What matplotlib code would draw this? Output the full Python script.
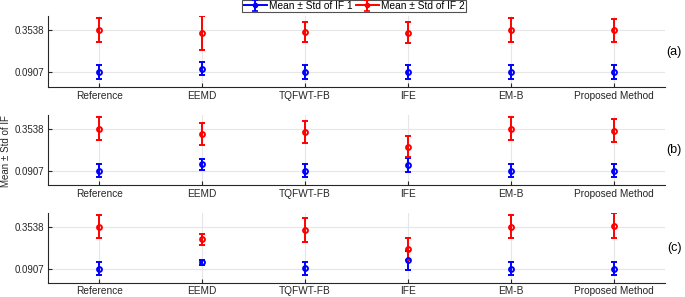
import matplotlib
matplotlib.use("Agg")
import matplotlib.pyplot as plt
import numpy as np

plt.rcParams['font.family'] = ['Liberation Sans', 'DejaVu Sans']

methods = ["Reference", "EEMD", "TQFWT-FB", "IFE", "EM-B", "Proposed Method"]
panel_labels = ["(a)", "(b)", "(c)"]
yticks = [0.0907, 0.3538]

# panel (a)
mean_if1_a = [0.0907, 0.113, 0.0907, 0.0907, 0.092, 0.0907]
std_if1_a = [0.044, 0.040, 0.044, 0.044, 0.044, 0.044]
mean_if2_a = [0.3538, 0.335, 0.341, 0.337, 0.3538, 0.351]
std_if2_a = [0.073, 0.106, 0.063, 0.066, 0.073, 0.072]

# panel (b)
mean_if1_b = [0.0907, 0.131, 0.0907, 0.125, 0.0907, 0.0907]
std_if1_b = [0.043, 0.035, 0.043, 0.046, 0.043, 0.043]
mean_if2_b = [0.3538, 0.321, 0.334, 0.240, 0.3538, 0.342]
std_if2_b = [0.074, 0.067, 0.071, 0.067, 0.073, 0.070]

# panel (c)
mean_if1_c = [0.0907, 0.129, 0.092, 0.142, 0.0907, 0.0907]
std_if1_c = [0.043, 0.015, 0.043, 0.062, 0.043, 0.043]
mean_if2_c = [0.3538, 0.274, 0.331, 0.214, 0.3538, 0.360]
std_if2_c = [0.072, 0.035, 0.075, 0.071, 0.073, 0.079]

panels = [
    (mean_if1_a, std_if1_a, mean_if2_a, std_if2_a),
    (mean_if1_b, std_if1_b, mean_if2_b, std_if2_b),
    (mean_if1_c, std_if1_c, mean_if2_c, std_if2_c),
]

W, H = 685, 297
fig = plt.figure(figsize=(W / 100, H / 100), dpi=100)

style = dict(ms=3.5, mfc='none', mew=1.4, elinewidth=1.4, capsize=2.2,
             capthick=1.2, zorder=3)

# axes boxes in pixels: (left, top, right, bottom)
boxes = [(48, 16, 665, 87), (48, 115, 665, 185), (48, 213, 665, 283)]
x = np.arange(1, len(methods) + 1)
spine_col = '#262626'
for i, (box, data) in enumerate(zip(boxes, panels)):
    l, t, r, b = box
    ax = fig.add_axes([l / W, 1 - b / H, (r - l) / W, (b - t) / H])
    m1, s1, m2, s2 = data
    ax.errorbar(x, m1, yerr=s1, fmt='o', color=(0, 0, 1), ecolor=(0, 0, 1), **style)
    ax.errorbar(x, m2, yerr=s2, fmt='o', color=(1, 0, 0), ecolor=(1, 0, 0), **style)
    ax.set_xlim(0.5, 6.5)
    ax.set_ylim(0, 0.44)
    ax.set_xticks(x)
    ax.set_xticklabels(methods, fontsize=7.3)
    ax.set_yticks(yticks)
    ax.set_yticklabels(["%.4f" % v for v in yticks])
    ax.grid(True, color='#e6e6e6', linewidth=0.8)
    ax.set_axisbelow(True)
    for sp in ['top', 'right']:
        ax.spines[sp].set_visible(False)
    for sp in ['left', 'bottom']:
        ax.spines[sp].set_color(spine_col)
        ax.spines[sp].set_linewidth(0.8)
    ax.tick_params(axis='y', labelsize=7, colors=spine_col, direction='in',
                   length=3, width=0.8, pad=3)
    ax.tick_params(axis='x', colors=spine_col, direction='in',
                   length=3, width=0.8, pad=3.2 if i < 2 else 2.2)
    fig.text(674 / W, 1 - ((t + b) / 2) / H, panel_labels[i], fontsize=9,
             ha='center', va='center', color='black')

# proxy handles for the legend (line through marker, like the original)
pax = fig.add_axes([0, 0, 0.01, 0.01])
pax.set_axis_off()
p1 = pax.errorbar([np.nan], [np.nan], yerr=[0.1], fmt='-o', color=(0, 0, 1),
                  mfc=(0, 0, 1), ms=3, lw=1.4, elinewidth=1.4, capsize=2, capthick=1.2)
p2 = pax.errorbar([np.nan], [np.nan], yerr=[0.1], fmt='-o', color=(1, 0, 0),
                  mfc=(1, 0, 0), ms=3, lw=1.4, elinewidth=1.4, capsize=2, capthick=1.2)

fig.text(6 / W, 1 - 151 / H, "Mean \u00b1 Std of IF", rotation=90, fontsize=7,
         ha='center', va='center', color=spine_col)

leg = fig.legend([p1, p2], ["Mean \u00b1 Std of IF 1", "Mean \u00b1 Std of IF 2"],
                 loc='center', bbox_to_anchor=(354 / W, 1 - 6 / H), ncol=2,
                 fontsize=7.3, frameon=True, fancybox=False, handlelength=2.3,
                 handletextpad=0.2, columnspacing=0.3, borderpad=0.12,
                 borderaxespad=0)
leg.get_frame().set_edgecolor('#262626')
leg.get_frame().set_linewidth(0.8)

fig.savefig("out.png", dpi=100)
